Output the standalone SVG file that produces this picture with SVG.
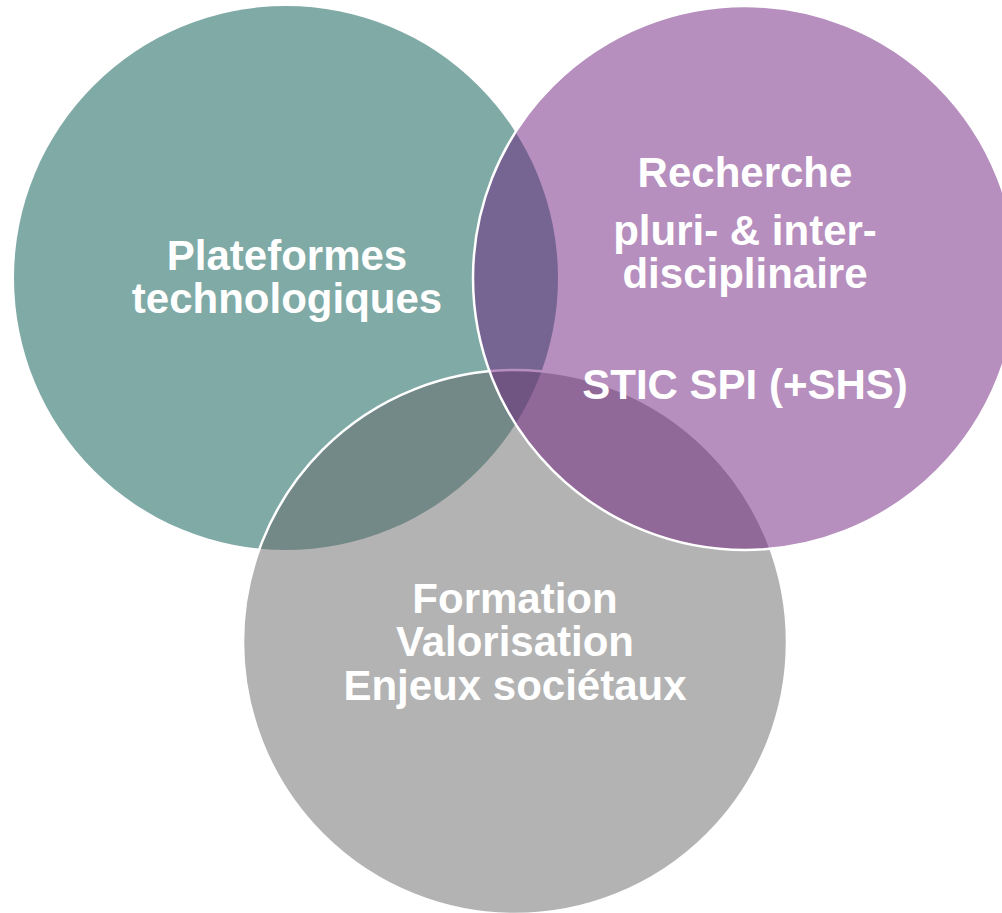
<svg xmlns="http://www.w3.org/2000/svg" width="1002" height="913" viewBox="0 0 1002 913">
  <style>
    .disc { fill-opacity: 0.5; }
    .ring { stroke: #ffffff; stroke-width: 2.5; }
    .label { font-family: "Liberation Sans", Arial, Helvetica, sans-serif; font-weight: bold; font-size: 42px; fill: #ffffff; text-anchor: middle; }
  </style>
  <rect width="1002" height="913" fill="#ffffff"/>

  <!-- Left set: technology platforms -->
  <g id="plateformes">
    <circle class="disc" cx="286" cy="278" r="272" fill="#00554d"/>
    <text class="label" x="287" y="270">Plateformes</text>
    <text class="label" x="287" y="313">technologiques</text>
  </g>

  <!-- Bottom set: training, transfer, societal issues -->
  <g id="formation">
    <circle class="disc ring" cx="515" cy="642" r="272" fill="#676767"/>
    <text class="label" x="515" y="613">Formation</text>
    <text class="label" x="515" y="656">Valorisation</text>
    <text class="label" x="515" y="700">Enjeux sociétaux</text>
  </g>

  <!-- Right set: research -->
  <g id="recherche">
    <circle class="disc ring" cx="745" cy="278" r="272" fill="#6d1f7d"/>
    <text class="label" x="745" y="187">Recherche</text>
    <text class="label" x="745" y="245">pluri- &amp; inter-</text>
    <text class="label" x="745" y="288">disciplinaire</text>
    <text class="label" x="745" y="399">STIC SPI (+SHS)</text>
  </g>

  <!-- No connectors in this diagram -->
  <g id="connectors"/>
</svg>
